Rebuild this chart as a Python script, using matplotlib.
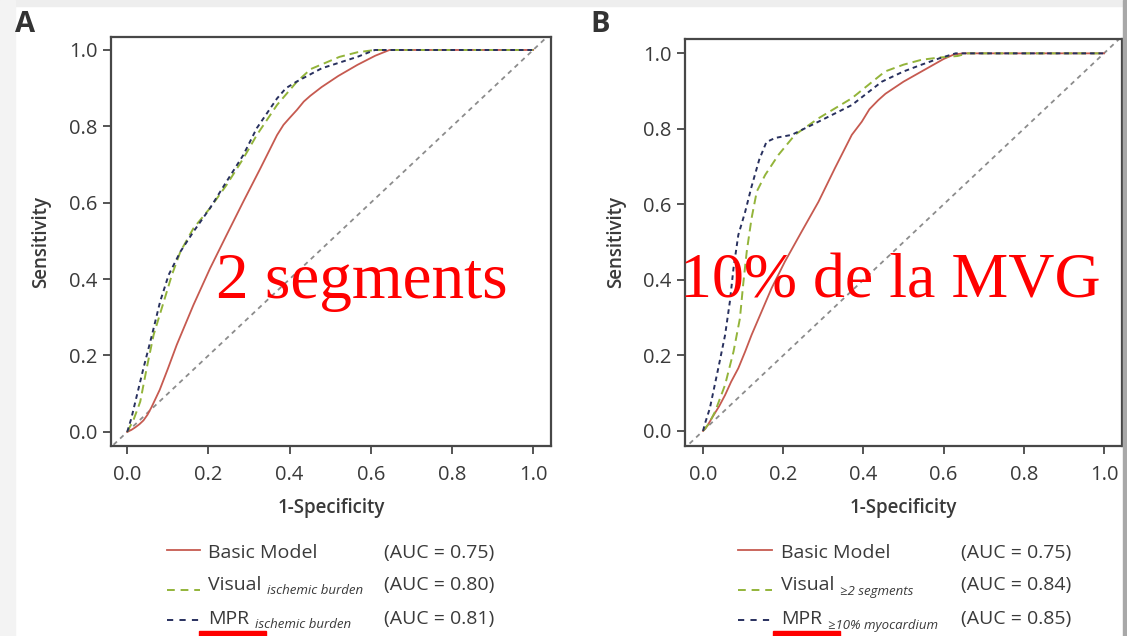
import matplotlib
matplotlib.use("Agg")
import matplotlib.pyplot as plt
from matplotlib.lines import Line2D
from matplotlib.patches import Rectangle

plt.rcParams['font.family'] = ['Open Sans', 'DejaVu Sans']

# ---- data (1-specificity, sensitivity) ----
a_basic_fpr = [0, 0.01, 0.02, 0.03, 0.04, 0.05, 0.06, 0.08, 0.10, 0.122, 0.163, 0.204, 0.245,
               0.286, 0.328, 0.369, 0.385, 0.40, 0.418, 0.435, 0.451, 0.479, 0.52, 0.567,
               0.611, 0.646, 0.75, 0.9, 1.0]
a_basic_tpr = [0, 0.005, 0.012, 0.02, 0.03, 0.045, 0.065, 0.11, 0.165, 0.228, 0.332, 0.428,
               0.516, 0.603, 0.690, 0.777, 0.804, 0.822, 0.843, 0.865, 0.880, 0.903, 0.932,
               0.961, 0.985, 1.0, 1.0, 1.0, 1.0]
a_visual_fpr = [0, 0.015, 0.032, 0.048, 0.065, 0.09, 0.11, 0.131, 0.163, 0.204, 0.245, 0.286,
                0.319, 0.369, 0.418, 0.452, 0.523, 0.567, 0.61, 1.0]
a_visual_tpr = [0, 0.03, 0.079, 0.167, 0.254, 0.341, 0.411, 0.472, 0.533, 0.586, 0.647, 0.716,
                0.777, 0.856, 0.917, 0.95, 0.982, 0.994, 1.0, 1.0]
a_mpr_fpr = [0, 0.01, 0.02, 0.04, 0.061, 0.081, 0.102, 0.131, 0.163, 0.204, 0.245, 0.286,
             0.319, 0.369, 0.391, 0.417, 0.479, 0.567, 0.61, 1.0]
a_mpr_tpr = [0, 0.035, 0.079, 0.167, 0.254, 0.341, 0.411, 0.472, 0.524, 0.586, 0.656, 0.725,
             0.795, 0.873, 0.9, 0.917, 0.952, 0.982, 1.0, 1.0]

b_basic_fpr = [0, 0.01, 0.022, 0.04, 0.055, 0.07, 0.088, 0.105, 0.121, 0.146, 0.171, 0.204,
               0.246, 0.288, 0.329, 0.371, 0.396, 0.415, 0.437, 0.455, 0.5, 0.545, 0.6,
               0.626, 0.65, 1.0]
b_basic_tpr = [0, 0.012, 0.034, 0.065, 0.095, 0.13, 0.166, 0.21, 0.254, 0.316, 0.378, 0.448,
               0.528, 0.607, 0.696, 0.784, 0.819, 0.852, 0.876, 0.893, 0.925, 0.952, 0.985,
               0.997, 1.0, 1.0]
b_visual_fpr = [0, 0.015, 0.03, 0.055, 0.076, 0.092, 0.1, 0.109, 0.121, 0.134, 0.155, 0.188,
                0.229, 0.288, 0.371, 0.454, 0.5, 0.545, 0.59, 0.635, 0.66, 1.0]
b_visual_tpr = [0, 0.02, 0.051, 0.122, 0.21, 0.298, 0.387, 0.475, 0.563, 0.634, 0.678, 0.731,
                0.784, 0.828, 0.881, 0.952, 0.970, 0.983, 0.989, 0.993, 1.0, 1.0]
b_mpr_fpr = [0, 0.005, 0.017, 0.038, 0.055, 0.067, 0.076, 0.088, 0.105, 0.121, 0.14, 0.158,
             0.18, 0.221, 0.288, 0.371, 0.446, 0.5, 0.545, 0.59, 0.63, 1.0]
b_mpr_tpr = [0, 0.02, 0.06, 0.166, 0.254, 0.343, 0.431, 0.519, 0.58, 0.647, 0.718, 0.765,
             0.776, 0.784, 0.819, 0.863, 0.925, 0.952, 0.97, 0.987, 1.0, 1.0]

panel_letters = ['A', 'B']
overlay_text = ['2 segments', '10% de la MVG']
legend_names = ['Basic Model', 'Visual', 'MPR']
legend_subs = [[None, 'ischemic burden', 'ischemic burden'],
               [None, '\u22652 segments', '\u226510% myocardium']]
auc_values = [[0.75, 0.80, 0.81], [0.75, 0.84, 0.85]]
ticks = [0.0, 0.2, 0.4, 0.6, 0.8, 1.0]

RED = '#c65a50'
GREEN = '#93b43a'
BLUE = '#28305e'
DIAG = '#8c8c8c'
FRAME = '#474747'
TXT = '#3a3a3a'

W, H = 1127, 636
fig = plt.figure(figsize=(W / 100, H / 100), dpi=100)
fig.patch.set_facecolor('white')

# screenshot borders
fig.patches.append(Rectangle((0, 1 - 6 / H), 1, 6 / H, transform=fig.transFigure,
                             color='#eeeeee', zorder=0))
fig.patches.append(Rectangle((0, 0), 15 / W, 1, transform=fig.transFigure,
                             color='#f3f3f3', zorder=0))
fig.patches.append(Rectangle((1123 / W, 0), 4 / W, 1, transform=fig.transFigure,
                             color='#a8a8a8', zorder=0))


def px_rect(l, t, r, b):
    return [l / W, 1 - b / H, (r - l) / W, (b - t) / H]


axA = fig.add_axes(px_rect(111, 37, 551, 446))
axB = fig.add_axes(px_rect(685, 39, 1122, 446))

curves = [
    [(a_basic_fpr, a_basic_tpr), (a_visual_fpr, a_visual_tpr), (a_mpr_fpr, a_mpr_tpr)],
    [(b_basic_fpr, b_basic_tpr), (b_visual_fpr, b_visual_tpr), (b_mpr_fpr, b_mpr_tpr)],
]
styles = [dict(color=RED, ls='-', lw=1.3),
          dict(color=GREEN, ls=(0, (4.5, 2.6)), lw=1.4),
          dict(color=BLUE, ls=(0, (2.4, 2.0)), lw=1.4)]
limits = [((-0.04, 1.044), (-0.037, 1.034)), ((-0.045, 1.045), (-0.04, 1.038))]

for i, ax in enumerate([axA, axB]):
    ax.plot([-0.05, 1.05], [-0.05, 1.05], color=DIAG, ls=(0, (2.6, 2.4)), lw=1.3, zorder=1)
    for (fx, ty), st in zip(curves[i], styles):
        ax.plot(fx, ty, zorder=2, **st)
    ax.set_xlim(*limits[i][0])
    ax.set_ylim(*limits[i][1])
    ax.set_xticks(ticks)
    ax.set_yticks(ticks)
    ax.set_xticklabels(['%.1f' % t for t in ticks])
    ax.set_yticklabels(['%.1f' % t for t in ticks])
    ax.tick_params(length=5.5, width=1.3, color=FRAME, labelcolor=TXT, labelsize=14.5)
    ax.tick_params(axis='x', pad=8)
    ax.tick_params(axis='y', pad=4)
    for s in ax.spines.values():
        s.set_color(FRAME)
        s.set_linewidth(1.6)
    ax.set_xlabel('1-Specificity', fontsize=13.5, fontweight='semibold', color=TXT)
    ax.set_ylabel('Sensitivity', fontsize=13.5, fontweight='semibold', color=TXT)
    ax.xaxis.set_label_coords(0.5, -0.128)
    ax.yaxis.set_label_coords(-0.135, 0.5)

# panel letters
fig.text(15 / W, 1 - 24 / H, panel_letters[0], fontsize=21, fontweight='bold', color='#333333', va='center')
fig.text(590 / W, 1 - 24 / H, panel_letters[1], fontsize=21, fontweight='bold', color='#333333', va='center')

# legends drawn by hand (three aligned columns)
renderer = fig.canvas.get_renderer()
leg_cfg = [dict(hx=(167, 200), tx=208, ax_=384, ul=(199, 266)),
           dict(hx=(738, 772), tx=781, ax_=961, ul=(773, 840))]
row_y = [553, 585, 619]
handle_y = [550, 590, 620]
for p in range(2):
    cfg = leg_cfg[p]
    for r in range(3):
        st = dict(styles[r])
        if r == 1:
            st['ls'] = (0, (4.0, 3.0))
        if r == 2:
            st['ls'] = (0, (3.2, 3.2))
        fig.add_artist(Line2D([cfg['hx'][0] / W, cfg['hx'][1] / W],
                              [1 - handle_y[r] / H, 1 - handle_y[r] / H],
                              transform=fig.transFigure, **st))
        t = fig.text(cfg['tx'] / W, 1 - row_y[r] / H, legend_names[r], fontsize=14,
                     color=TXT, va='center')
        sub = legend_subs[p][r]
        if sub:
            bb = t.get_window_extent(renderer)
            fig.text((bb.x1 + 6) / W, 1 - (row_y[r] + 6) / H, sub, fontsize=9.5,
                     style='italic', color=TXT, va='center')
        fig.text(cfg['ax_'] / W, 1 - row_y[r] / H, '(AUC = %.2f)' % auc_values[p][r],
                 fontsize=14, color=TXT, va='center')
    ul = cfg['ul']
    fig.patches.append(Rectangle((ul[0] / W, 0), (ul[1] - ul[0]) / W, 5 / H,
                                 transform=fig.transFigure, color='#ff0000', zorder=5))

# red overlay annotations
fig.text(216 / W, 1 - 298 / H, overlay_text[0], family='Liberation Serif', fontsize=47,
         color='#ff0000', va='baseline')
fig.text(680 / W, 1 - 298 / H, overlay_text[1], family='Liberation Serif', fontsize=46,
         color='#ff0000', va='baseline')

fig.savefig('out.png', dpi=100)
